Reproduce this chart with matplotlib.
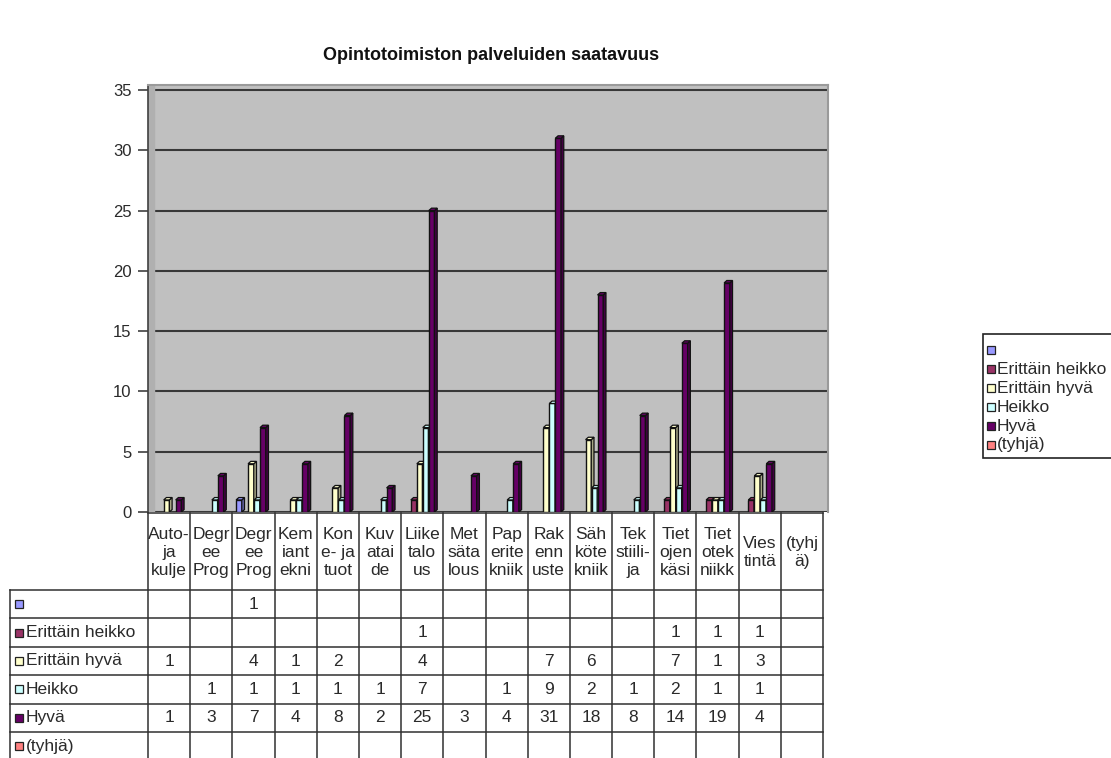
import numpy as np
import matplotlib.pyplot as plt
from matplotlib.colors import to_rgb

plt.rcParams['font.family'] = ['Liberation Sans', 'DejaVu Sans']

W, H = 1111, 758

# koulutusalat (table header, wrapped as in the sheet)
categories = ['Auto-\nja\nkulje', 'Degr\nee\nProg', 'Degr\nee\nProg', 'Kem\niant\nekni',
              'Kon\ne- ja\ntuot', 'Kuv\natai\nde', 'Liike\ntalo\nus', 'Met\nsäta\nlous',
              'Pap\nerite\nkniik', 'Rak\nenn\nuste', 'Säh\nköte\nkniik', 'Tek\nstiili-\nja',
              'Tiet\nojen\nkäsi', 'Tiet\notek\nniikk', 'Vies\ntintä', '(tyhj\nä)']

n = np.nan
tyhja_otsikko = [n, n, 1, n, n, n, n, n, n, n, n, n, n, n, n, n]
erittain_heikko = [n, n, n, n, n, n, 1, n, n, n, n, n, 1, 1, 1, n]
erittain_hyva = [1, n, 4, 1, 2, n, 4, n, n, 7, 6, n, 7, 1, 3, n]
heikko = [n, 1, 1, 1, 1, 1, 7, n, 1, 9, 2, 1, 2, 1, 1, n]
hyva = [1, 3, 7, 4, 8, 2, 25, 3, 4, 31, 18, 8, 14, 19, 4, n]
tyhja = [n] * 16

series_names = ['', 'Erittäin heikko', 'Erittäin hyvä', 'Heikko', 'Hyvä', '(tyhjä)']
series = [tyhja_otsikko, erittain_heikko, erittain_hyva, heikko, hyva, tyhja]
colors = ['#9999ff', '#993366', '#ffffcc', '#ccffff', '#660066', '#ff8080']

txt = '#2a2a2a'
fs = 12.5


def shade(c, f):
    r, g, b = to_rgb(c)
    return (r * f, g * f, b * f)


fig = plt.figure(figsize=(W / 100, H / 100), dpi=100)

# chart area
ax = fig.add_axes([148 / W, 1 - 512 / H, 680 / W, 427 / H])
ax.set_facecolor('#c0c0c0')
ax.set_ylim(0, 35 + 5 / 12.06)
ax.set_xlim(-0.5, 15.5 + 5 / 42.19)
ax.axvspan(-0.5, -0.5 + 6 / 42.19, color='#b0b0b0', zorder=1)
ax.set_yticks(range(0, 36, 5))
ax.set_xticks([])
ax.yaxis.grid(True, color='#383838', lw=1.5)
ax.set_axisbelow(True)
ax.tick_params(axis='y', direction='out', length=7, width=1.2, color='#404040',
               labelsize=12, labelcolor=txt, pad=5)
ax.spines['left'].set_color('#404040')
ax.spines['left'].set_linewidth(1.2)
ax.spines['bottom'].set_visible(False)
for s in ['top', 'right']:
    ax.spines[s].set_color('#9a9a9a')
    ax.spines[s].set_linewidth(1.5)

x = np.arange(len(categories))
step, bw = 0.142, 0.135
dx, dy = 0.065, 0.2
for i, (vals, col) in enumerate(zip(series, colors)):
    xs = x + (i - 2.5) * step + 0.01
    v = np.array(vals, dtype=float)
    ax.bar(xs, v, width=bw, color=col, edgecolor='#111111', lw=1.0, zorder=3 + i)
    for xc, val in zip(xs, v):
        if np.isnan(val):
            continue
        r = xc + bw / 2
        l = xc - bw / 2
        ax.fill([r, r + dx, r + dx, r], [0, dy, val + dy, val],
                fc=shade(col, 0.65), ec='#111111', lw=0.9, zorder=3 + i)
        ax.fill([l, l + dx, r + dx, r], [val, val + dy, val + dy, val],
                fc=col, ec='#111111', lw=0.9, zorder=3 + i)

fig.text(491 / W, 1 - 56 / H, 'Opintotoimiston palveluiden saatavuus',
         ha='center', va='center', fontsize=13, fontweight='bold', color='#111111')

# data table under the chart, drawn in pixel units
fig.canvas.draw()
col_x = ax.transData.transform([(k - 0.5, 0) for k in range(len(categories) + 1)])[:, 0]

tb = fig.add_axes([0, 0, 1, 1])
tb.set_xlim(0, W)
tb.set_ylim(H, 0)
tb.axis('off')
tb.patch.set_visible(False)

line = dict(color='#303030', lw=1.1)
head_top, head_bot = 513, 590
row_h = 28.4
left = 10
row_y = [head_bot + k * row_h for k in range(len(series) + 1)]

tb.plot([col_x[0], col_x[-1]], [head_top, head_top], **line)
for yy in row_y:
    tb.plot([left, col_x[-1]], [yy, yy], **line)
for xx in col_x:
    tb.plot([xx, xx], [head_top, H], **line)
tb.plot([left, left], [head_bot, H], **line)

for k, lab in enumerate(categories):
    tb.text((col_x[k] + col_x[k + 1]) / 2, (head_top + head_bot) / 2 + 1, lab,
            ha='center', va='center', fontsize=fs, color=txt, linespacing=1.25)

for r, (name, vals, col) in enumerate(zip(series_names, series, colors)):
    yc = (row_y[r] + row_y[r + 1]) / 2
    tb.add_patch(plt.Rectangle((15, yc - 4), 8, 8, fc=col, ec='#222222', lw=0.9))
    tb.text(26, yc, name, ha='left', va='center', fontsize=fs, color=txt)
    for k, val in enumerate(vals):
        if not np.isnan(val):
            tb.text((col_x[k] + col_x[k + 1]) / 2, yc, f'{val:g}',
                    ha='center', va='center', fontsize=fs, color=txt)

# legend box on the right
tb.add_patch(plt.Rectangle((983, 334), 200, 124, fc='white', ec='#222222', lw=1.2))
for r, (name, col) in enumerate(zip(series_names, colors)):
    yc = 350 + r * 19
    tb.add_patch(plt.Rectangle((987, yc - 4), 8, 8, fc=col, ec='#222222', lw=0.9))
    tb.text(997, yc, name, ha='left', va='center', fontsize=fs, color=txt)

fig.savefig('out.png', dpi=100)
